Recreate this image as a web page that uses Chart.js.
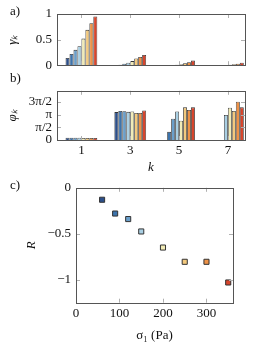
<!DOCTYPE html>
<html>
<head>
<meta charset="utf-8">
<script src="https://cdn.jsdelivr.net/npm/chart.js@4"></script>
<style>
  body { margin: 0; background: #fff; }
  #wrap { position: relative; width: 254px; height: 346px; font-family: "Liberation Serif", serif; }
  canvas { position: absolute; left: 0; }
  .lab { position: absolute; font-size: 13px; color: #111; }
</style>
</head>
<body>
<div id="wrap">
  <canvas id="chartA" width="254" height="78" style="top:0"></canvas>
  <canvas id="chartB" width="254" height="97" style="top:78px"></canvas>
  <canvas id="chartC" width="254" height="171" style="top:175px"></canvas>
  <div class="lab" style="left:10px;top:3px">a)</div>
  <div class="lab" style="left:10px;top:70px">b)</div>
  <div class="lab" style="left:10px;top:177px">c)</div>
</div>
<script>
// harmonics k and the 8 stress levels
var ks = [1, 3, 5, 7];
var colors = ['#2c4f8a', '#3d74ad', '#6a9fcb', '#a9cfe3', '#f1ebb6', '#f3c97d', '#ed9247', '#d8452c'];

// gamma_k, one array per stress level (values at k = 1,3,5,7)
var gamma = [
  [0.14, 0.00, 0.00, 0.00],
  [0.22, 0.01, 0.00, 0.00],
  [0.30, 0.03, 0.00, 0.00],
  [0.37, 0.05, 0.01, 0.00],
  [0.52, 0.08, 0.02, 0.01],
  [0.69, 0.13, 0.04, 0.02],
  [0.82, 0.16, 0.06, 0.03],
  [0.95, 0.20, 0.09, 0.05]
];

// phi_k in rad (null = no bar)
var phi = [
  [0.28, 3.46, null, null],
  [0.28, 3.59, 1.01, null],
  [0.27, 3.56, 2.65, null],
  [0.27, 3.49, 3.53, 3.11],
  [0.25, 3.53, 2.38, 4.01],
  [0.25, 3.35, 4.05, 3.60],
  [0.25, 3.35, 3.73, 4.75],
  [0.25, 3.66, 4.05, 4.05]
];

// panel c
var sigma1 = [60, 90, 120, 150, 200, 250, 300, 350];
var R = [-0.13, -0.28, -0.34, -0.475, -0.65, -0.805, -0.805, -1.03];

var gammaTicks = [0, 0.5, 1];
var phiTicks = [0, Math.PI / 2, Math.PI, 3 * Math.PI / 2];
var phiLabels = ['0', 'π/2', 'π', '3π/2'];
var sigmaTicks = [0, 100, 200, 300];
var RTicks = [-1, -0.5, 0];

var font = { family: '"Liberation Serif", serif', size: 13 };
var italic = { family: '"Liberation Serif", serif', size: 13, style: 'italic' };

// pgfplots-like box with inward ticks
var boxPlugin = {
  id: 'box',
  afterDraw: function (chart) {
    var a = chart.chartArea, c = chart.ctx;
    var x = chart.scales.x, y = chart.scales.y;
    c.save();
    c.strokeStyle = '#b0b0b0';
    c.lineWidth = 1;
    c.beginPath();
    x.ticks.forEach(function (t) {
      var px = Math.round(x.getPixelForValue(t.value)) + 0.5;
      if (px <= a.left + 1 || px >= a.right - 1) return;
      c.moveTo(px, a.top); c.lineTo(px, a.top + 4);
      c.moveTo(px, a.bottom); c.lineTo(px, a.bottom - 4);
    });
    y.ticks.forEach(function (t) {
      var py = Math.round(y.getPixelForValue(t.value)) + 0.5;
      if (py <= a.top + 1 || py >= a.bottom - 1) return;
      c.moveTo(a.left, py); c.lineTo(a.left + 4, py);
      c.moveTo(a.right, py); c.lineTo(a.right - 4, py);
    });
    c.stroke();
    c.strokeStyle = '#555';
    c.lineWidth = 1;
    c.strokeRect(Math.round(a.left) + 0.5, Math.round(a.top) + 0.5, Math.round(a.right - a.left), Math.round(a.bottom - a.top));
    c.restore();
  }
};

function barSets(values) {
  return values.map(function (row, i) {
    return {
      data: ks.map(function (k, j) { return { x: k, y: row[j] }; }),
      backgroundColor: colors[i],
      borderColor: '#333',
      borderWidth: 0.8,
      categoryPercentage: 0.65,
      barPercentage: 1
    };
  });
}

function setTicks(list) {
  return function (s) { s.ticks = list.map(function (v) { return { value: v }; }); };
}

// a) gamma_k
new Chart(document.getElementById('chartA').getContext('2d'), {
  type: 'bar',
  data: { datasets: barSets(gamma) },
  plugins: [boxPlugin],
  options: {
    responsive: false, animation: false,
    layout: { padding: { top: 14, right: 9, bottom: 5, left: 0 } },
    plugins: { legend: { display: false }, tooltip: { enabled: false } },
    scales: {
      x: {
        type: 'linear', min: 0, max: 7.7, offset: false,
        afterBuildTicks: setTicks(ks),
        ticks: { display: false },
        grid: { display: false },
        border: { display: false },
        afterFit: function (s) { s.height = 0; }
      },
      y: {
        min: 0, max: 1,
        afterBuildTicks: setTicks(gammaTicks),
        ticks: { font: font, color: '#111', padding: 5, autoSkip: false, callback: function (v) { return String(v); } },
        grid: { display: false, drawTicks: false },
        border: { display: false },
        title: { display: true, text: 'γₖ', font: italic, color: '#111', padding: { top: 5, bottom: 0 } },
        afterFit: function (s) { s.width = 57; }
      }
    }
  }
});

// b) phi_k
new Chart(document.getElementById('chartB').getContext('2d'), {
  type: 'bar',
  data: { datasets: barSets(phi) },
  plugins: [boxPlugin],
  options: {
    responsive: false, animation: false,
    layout: { padding: { top: 4, right: 9, bottom: 0, left: 0 } },
    plugins: { legend: { display: false }, tooltip: { enabled: false } },
    scales: {
      x: {
        type: 'linear', min: 0, max: 7.7, offset: false,
        afterBuildTicks: setTicks(ks),
        ticks: { font: font, color: '#111', padding: 3, autoSkip: false, callback: function (v) { return String(v); } },
        grid: { display: false, drawTicks: false },
        border: { display: false },
        title: { display: true, text: 'k', font: italic, color: '#111', padding: { top: 0, bottom: 0 } },
        afterFit: function (s) { s.height = 35; }
      },
      y: {
        min: 0, max: 6.1,
        afterBuildTicks: setTicks(phiTicks),
        ticks: {
          font: font, color: '#111', padding: 5, autoSkip: false,
          callback: function (v) {
            var i = phiTicks.findIndex(function (p) { return Math.abs(p - v) < 1e-6; });
            return i < 0 ? '' : phiLabels[i];
          }
        },
        grid: { display: false, drawTicks: false },
        border: { display: false },
        title: { display: true, text: 'φₖ', font: italic, color: '#111', padding: { top: 5, bottom: 0 } },
        afterFit: function (s) { s.width = 57; }
      }
    }
  }
});

// c) R vs sigma_1
new Chart(document.getElementById('chartC').getContext('2d'), {
  type: 'scatter',
  data: {
    datasets: [{
      data: sigma1.map(function (s, i) { return { x: s, y: R[i] }; }),
      pointStyle: 'rect',
      pointRadius: 3.6,
      pointBackgroundColor: colors,
      pointBorderColor: '#333',
      pointBorderWidth: 1
    }]
  },
  plugins: [boxPlugin],
  options: {
    responsive: false, animation: false,
    layout: { padding: { top: 10, right: 21, bottom: 0, left: 0 } },
    plugins: { legend: { display: false }, tooltip: { enabled: false } },
    scales: {
      x: {
        min: 0, max: 361,
        afterBuildTicks: setTicks(sigmaTicks),
        ticks: { font: font, color: '#111', padding: 3, autoSkip: false, callback: function (v) { return String(v); } },
        grid: { display: false, drawTicks: false },
        border: { display: false },
        title: { display: true, text: 'σ₁ (Pa)', font: font, color: '#111', padding: { top: 0, bottom: 3 } },
        afterFit: function (s) { s.height = 43.3; }
      },
      y: {
        min: -1.25, max: 0,
        afterBuildTicks: setTicks(RTicks),
        ticks: {
          font: font, color: '#111', padding: 5, autoSkip: false,
          callback: function (v) { return v < 0 ? '−' + String(-v) : String(v); }
        },
        grid: { display: false, drawTicks: false },
        border: { display: false },
        title: { display: true, text: 'R', font: italic, color: '#111', padding: { top: 24, bottom: 0 } },
        afterFit: function (s) { s.width = 76; }
      }
    }
  }
});
</script>
</body>
</html>
